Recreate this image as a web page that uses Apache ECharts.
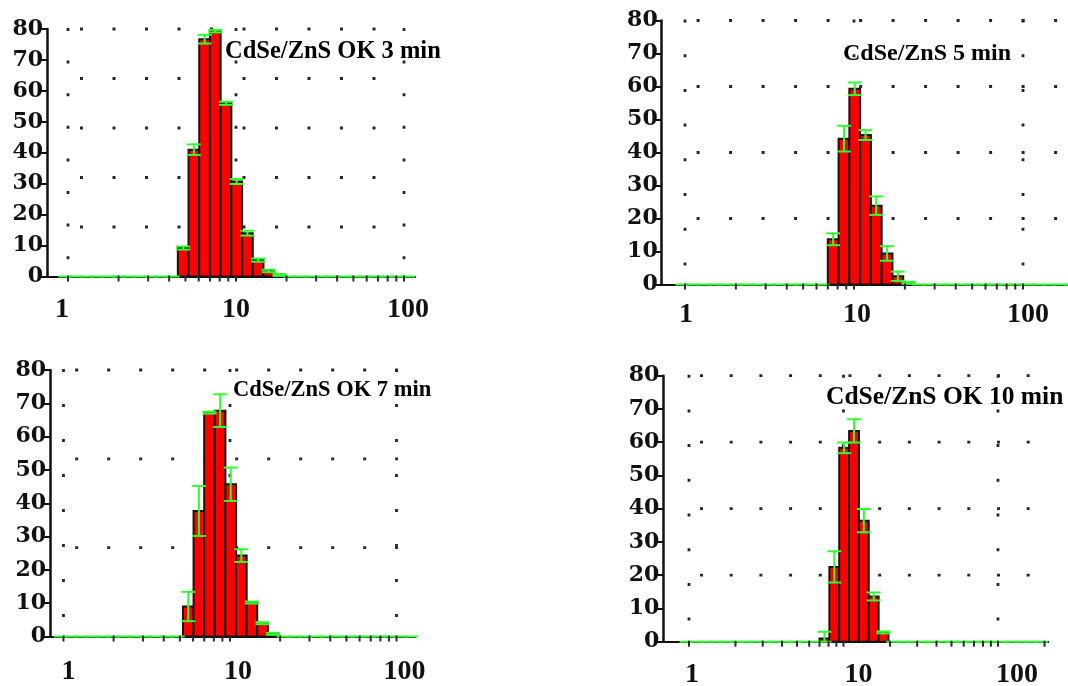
<!DOCTYPE html>
<html>
<head>
<meta charset="utf-8">
<script src="https://cdn.jsdelivr.net/npm/echarts@6/dist/echarts.min.js"></script>
<style>
  html, body { margin: 0; padding: 0; background: #ffffff; }
  #chart { width: 1068px; height: 686px; }
</style>
</head>
<body>
<div id="chart"></div>
<script>
// Size classes (nm) of the DLS number distribution, geometric step 1.158
const sizeClasses = [0.9649, 1.117, 1.294, 1.499, 1.736, 2.010, 2.328, 2.696, 3.122, 3.615,
  4.187, 4.849, 5.615, 6.503, 7.531, 8.721, 10.10, 11.70, 13.54, 15.69, 18.17, 21.04,
  24.36, 28.21, 32.67, 37.84, 43.82, 50.75, 58.77, 68.06, 78.82, 91.28, 105.7, 122.4,
  141.8, 164.2, 190.1];
const classStep = 1.158;

// Number distributions (%) with standard deviations
const sizes3min  = [4.849, 5.615, 6.503, 7.531, 8.721, 10.10, 11.70, 13.54, 15.69, 18.17];
const number3min = [9.2, 41.0, 76.7, 79.3, 56.0, 30.7, 14.0, 5.3, 1.8, 0.5];
const sd3min     = [0.5, 1.7, 1.4, 0.4, 0.5, 0.8, 0.8, 0.5, 0.4, 0.3];

const sizes5min  = [7.531, 8.721, 10.10, 11.70, 13.54, 15.69, 18.17, 21.04];
const number5min = [13.7, 44.2, 59.3, 45.3, 23.9, 9.4, 2.5, 0.5];
const sd5min     = [1.8, 3.9, 1.9, 1.5, 2.8, 2.2, 1.4, 0.3];

const sizes7min  = [5.615, 6.503, 7.531, 8.721, 10.10, 11.70, 13.54, 15.69, 18.17];
const number7min = [9.0, 37.7, 67.2, 67.8, 45.7, 24.3, 10.2, 4.0, 0.8];
const sd7min     = [4.4, 7.5, 0.3, 4.9, 5.0, 1.9, 0.3, 0.3, 0.3];

const sizes10min  = [7.531, 8.721, 10.10, 11.70, 13.54, 15.69, 18.17];
const number10min = [1.0, 22.5, 58.3, 63.4, 36.4, 13.6, 2.8];
const sd10min     = [2.0, 4.7, 1.6, 3.5, 3.5, 1.2, 0.3];

const titles = ['CdSe/ZnS OK 3 min', 'CdSe/ZnS 5 min', 'CdSe/ZnS OK 7 min', 'CdSe/ZnS OK 10 min'];

// Axis ticks
const xTickLabels = [1, 10, 100];
const xMinorTicks = [1, 2, 3, 4, 5, 6, 7, 8, 9, 10, 20, 30, 40, 50, 60, 70, 80, 90, 100, 200];
const yMax = 80;
const yStep = 10;

// Dotted lattice lines
const gridCols = [1, 10, 100];
const gridRows3min = [16, 32, 48, 64, 80];
const gridRows5min = [20, 40, 60, 80];
const gridRows7min = [80 / 3, 160 / 3, 80];
const gridRows10min = [20, 40, 60, 80];

// Panel layout (labelShift: horizontal nudge in px of the 1 / 10 / 100 labels)
const panels = [
  { title: titles[0], sizes: sizes3min, number: number3min, sd: sd3min, rows: gridRows3min,
    left: 47, top: 29, width: 368, height: 247.5, xMin: 0.75, xMax: 116.3, lastClass: 105.7,
    rowEnd: 101, hPeriod: 32.5, hFirst: 12, vPeriod: 32.6,
    labelMargin: 19, labelShift: [-6, 0, 4],
    titleX: 225, titleY: 52, titleSize: 24.5 },
  { title: titles[1], sizes: sizes5min, number: number5min, sd: sd5min, rows: gridRows5min,
    left: 661.7, top: 20.5, width: 406.3, height: 264, xMin: 0.728, xMax: 184.6, lastClass: 190.1,
    rowEnd: 184.6, hPeriod: 32.5, hFirst: 11.6, vPeriod: 34.7,
    labelMargin: 16, labelShift: [1, 3, 5],
    titleX: 843, titleY: 53.5, titleSize: 24 },
  { title: titles[2], sizes: sizes7min, number: number7min, sd: sd7min, rows: gridRows7min,
    left: 50, top: 370, width: 365, height: 266.5, xMin: 0.83, xMax: 129.1, lastClass: 122.4,
    rowEnd: 102, hPeriod: 32, hFirst: 11.7, vPeriod: 35,
    labelMargin: 21, labelShift: [5, 8, 8],
    titleX: 233, titleY: 390, titleSize: 22.5 },
  { title: titles[3], sizes: sizes10min, number: number10min, sd: sd10min, rows: gridRows10min,
    left: 663.3, top: 375.7, width: 385, height: 266, xMin: 0.682, xMax: 211.7, lastClass: 190.1,
    rowEnd: 165, hPeriod: 29.7, hFirst: 11, vPeriod: 34.7,
    labelMargin: 19, labelShift: [3, 15, 19],
    titleX: 826, titleY: 397, titleSize: 25.5 }
];

const BAR_RED = '#ff0000';
const EDGE = '#141414';
const ERR_GREEN = '#33ff33';
const DOT = '#262626';
const CAP_PX = 14;
const halfStep = Math.sqrt(classStep);
const LABEL_FONT = { fontFamily: 'Liberation Serif', fontWeight: 'bold', fontSize: 28, color: '#111' };

function lookup(sizes, vals, s) {
  for (let k = 0; k < sizes.length; k++) {
    if (Math.abs(sizes[k] - s) < 1e-6) return vals[k];
  }
  return 0;
}

const grids = [], xAxes = [], yAxes = [], series = [], graphics = [];

panels.forEach(function (p, i) {
  grids.push({ left: p.left, top: p.top, width: p.width, height: p.height,
    containLabel: false, outerBoundsMode: 'none' });

  // one rich style per decade label, padded on one side to nudge it
  const rich = {};
  xTickLabels.forEach(function (t, k) {
    const s = p.labelShift[k];
    rich['d' + k] = Object.assign({ padding: s >= 0 ? [0, 0, 0, 2 * s] : [0, -2 * s, 0, 0] }, LABEL_FONT);
  });

  xAxes.push({
    gridIndex: i, type: 'log', logBase: 10, min: p.xMin, max: p.xMax,
    axisLine: { show: true, onZero: false, lineStyle: { color: '#111', width: 2 } },
    axisTick: { show: false },
    splitLine: { show: false },
    axisLabel: Object.assign({
      margin: p.labelMargin, rich: rich,
      formatter: function (v) {
        for (let k = 0; k < xTickLabels.length; k++) {
          const t = xTickLabels[k];
          if (Math.abs(v - t) < t * 1e-6) return '{d' + k + '|' + t + '}';
        }
        return '';
      }
    }, LABEL_FONT)
  });

  yAxes.push({
    gridIndex: i, type: 'value', min: 0, max: yMax, interval: yStep,
    axisLine: { show: true, lineStyle: { color: '#111', width: 2.5 } },
    axisTick: { show: true, length: 7, lineStyle: { color: '#111', width: 2 } },
    splitLine: { show: false },
    axisLabel: { margin: 4, color: '#111', fontFamily: 'DejaVu Serif', fontWeight: 'bold', fontSize: 22 }
  });

  // dotted lattice: horizontal rows and vertical decade lines
  const latticeData = p.rows.map(function (v) { return [1, v, 0]; })
    .concat(gridCols.map(function (c) { return [c, yMax, 1]; }));
  series.push({
    type: 'custom', xAxisIndex: i, yAxisIndex: i, z: 1, silent: true,
    data: latticeData,
    renderItem: function (params, api) {
      const kind = api.value(2);
      if (kind === 0) {
        const a = api.coord([1, api.value(1)]);
        const b = api.coord([p.rowEnd, api.value(1)]);
        return { type: 'line', shape: { x1: a[0], y1: a[1], x2: b[0], y2: b[1] },
          style: { stroke: DOT, lineWidth: 2.8, lineDash: [3, p.hPeriod - 3],
            lineDashOffset: p.hPeriod - p.hFirst } };
      }
      const a = api.coord([api.value(0), yMax]);
      const b = api.coord([api.value(0), 0]);
      return { type: 'line', shape: { x1: a[0], y1: a[1] - 1, x2: b[0], y2: b[1] - 8 },
        style: { stroke: DOT, lineWidth: 2.8, lineDash: [3, p.vPeriod - 3] } };
    }
  });

  // histogram bars spanning each size class
  series.push({
    type: 'custom', xAxisIndex: i, yAxisIndex: i, z: 2, silent: true,
    data: p.sizes.map(function (s, k) { return [s, p.number[k]]; }),
    renderItem: function (params, api) {
      const s = api.value(0);
      const a = api.coord([s / halfStep, 0]);
      const b = api.coord([s * halfStep, api.value(1)]);
      return { type: 'rect',
        shape: { x: a[0], y: b[1], width: b[0] - a[0], height: a[1] - b[1] },
        style: { fill: BAR_RED, stroke: EDGE, lineWidth: 2 } };
    }
  });

  // error bars for every class shown (zero classes form the baseline)
  const errData = sizeClasses.filter(function (s) { return s <= p.lastClass * 1.0001; })
    .map(function (s) { return [s, lookup(p.sizes, p.number, s), lookup(p.sizes, p.sd, s)]; });
  series.push({
    type: 'custom', xAxisIndex: i, yAxisIndex: i, z: 3, silent: true,
    data: errData,
    renderItem: function (params, api) {
      const s = api.value(0), n = api.value(1), e = api.value(2);
      const top = api.coord([s, n + e]);
      const bot = api.coord([s, Math.max(0, n - e)]);
      const st = { stroke: ERR_GREEN, lineWidth: 2 };
      const kids = [
        { type: 'line', shape: { x1: top[0] - CAP_PX / 2, y1: top[1], x2: top[0] + CAP_PX / 2, y2: top[1] }, style: st }
      ];
      if (e > 0) {
        kids.push({ type: 'line', shape: { x1: top[0], y1: top[1], x2: bot[0], y2: bot[1] }, style: st });
        kids.push({ type: 'line', shape: { x1: bot[0] - CAP_PX / 2, y1: bot[1], x2: bot[0] + CAP_PX / 2, y2: bot[1] }, style: st });
      }
      return { type: 'group', children: kids };
    }
  });

  // log ticks on the size axis
  series.push({
    type: 'custom', xAxisIndex: i, yAxisIndex: i, z: 4, silent: true,
    data: xMinorTicks.filter(function (v) { return v <= p.xMax; }).map(function (v) { return [v, 0]; }),
    renderItem: function (params, api) {
      const c = api.coord([api.value(0), 0]);
      return { type: 'line', shape: { x1: c[0], y1: c[1] - 1, x2: c[0], y2: c[1] + 5 },
        style: { stroke: '#2a2a2a', lineWidth: 2 } };
    }
  });

  graphics.push({ type: 'text', x: p.titleX, y: p.titleY, silent: true,
    style: { text: p.title, font: 'bold ' + p.titleSize + 'px "Liberation Serif"',
      fill: '#000', align: 'left', verticalAlign: 'middle' } });
});

const chart = echarts.init(document.getElementById('chart'), null, { renderer: 'canvas' });
chart.setOption({
  backgroundColor: '#ffffff',
  animation: false,
  grid: grids,
  xAxis: xAxes,
  yAxis: yAxes,
  series: series,
  graphic: graphics
});
</script>
</body>
</html>
